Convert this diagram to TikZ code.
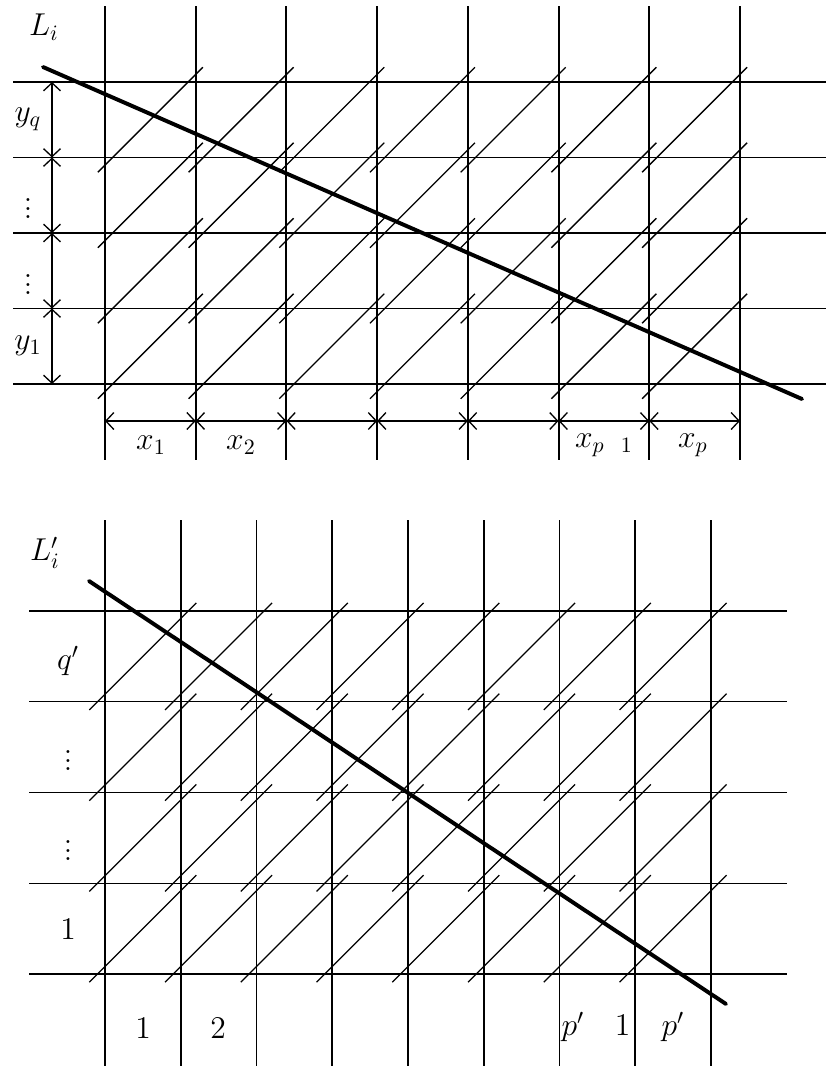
\documentclass[tikz,border=0pt]{standalone}
\usetikzlibrary{arrows.meta}

\tikzset{
	gridv/.style={line width=0.9pt},
	gridh/.style={line width=0.5pt},
	hatch/.style={line width=0.6pt},
	cutline/.style={line width=1.8pt, line cap=round},
	dimline/.style={line width=0.6pt, {Straight Barb[length=3.6pt,width=7.7pt]}-{Straight Barb[length=3.6pt,width=7.7pt]}},
	lbl/.style={font=\fontsize{14}{16}\selectfont, inner sep=0pt}
}

\begin{document}
\begin{tikzpicture}[x=0.016cm, y=-0.016cm]
		
		\useasboundingbox (0,0) rectangle (826,1066);
		
		% ---- upper picture: grid of the L_i cells
		\foreach \i in {0,...,7} {
			\draw[gridv] ({105+90.71*\i},6) -- ({105+90.71*\i},460);
		}
		\foreach \j in {0,...,4} {
			\draw[gridh] (13,{82+75.5*\j}) -- (826,{82+75.5*\j});
		}
		
		% hatching, one slash through the middle of every cell
		\foreach \i in {0,...,6} {
			\foreach \j in {0,...,3} {
				\draw[hatch] ({105+90.71*(\i+0.5)-52.5},{82+75.5*(\j+0.5)+52.5}) -- ++(105,-105);
			}
		}
		
		% the line L_i
		\coordinate (A) at (43,67);
		\coordinate (B) at (802,399);
		\draw[cutline] (A) -- (B);
		
		% dimension lines
		\foreach \j in {0,...,3} {
			\draw[dimline] (52,{82+75.5*\j}) -- (52,{82+75.5*(\j+1)});
		}
		\foreach \i in {0,...,6} {
			\draw[dimline] ({105+90.71*\i},421) -- ({105+90.71*(\i+1)},421);
		}
		
		% labels
		\node[lbl] (Li) at (44,27) {$L_i$};
		\node[lbl] (yq) at (28,119) {$y_q$};
		\node[lbl] (ya) at (28,202) {$\vdots$};
		\node[lbl] (yb) at (28,278) {$\vdots$};
		\node[lbl] (y1) at (28,346) {$y_1$};
		\node[lbl] (x1) at (151,445) {$x_1$};
		\node[lbl] (x2) at (241,445) {$x_2$};
		\node[lbl] (xq) at (604,445) {$x_{p\phantom{-}1}$};
		\node[lbl] (xp) at (693,445) {$x_p$};
		
		% ---- lower picture: grid of the L'_i cells
		\foreach \i in {0,...,8} {
			\draw[gridv] ({105+75.75*\i},520) -- ({105+75.75*\i},1066);
		}
		\foreach \j in {0,...,4} {
			\draw[gridh] (29,{611+90.75*\j}) -- (787,{611+90.75*\j});
		}
		
		\foreach \i in {0,...,7} {
			\foreach \j in {0,...,3} {
				\draw[hatch] ({105+75.75*(\i+0.5)-53.5},{611+90.75*(\j+0.5)+53.5}) -- ++(107,-107);
			}
		}
		
		% the line L'_i
		\coordinate (C) at (89,581);
		\coordinate (D) at (726,1004);
		\draw[cutline] (C) -- (D);
		
		% labels
		\node[lbl] (Lpi) at (45,553) {$L'_i$};
		\node[lbl] (qp) at (68,661) {$q'$};
		\node[lbl] (qa) at (68,754) {$\vdots$};
		\node[lbl] (qb) at (68,844) {$\vdots$};
		\node[lbl] (q1) at (68,929) {$1$};
		\node[lbl] (p1) at (143,1028) {$1$};
		\node[lbl] (p2) at (218,1028) {$2$};
		\node[lbl] (pq) at (596,1027) {$p'$\hspace{4.9mm}$1$};
		\node[lbl] (pp) at (673,1027) {$p'$};
		
	\end{tikzpicture}
\end{document}
